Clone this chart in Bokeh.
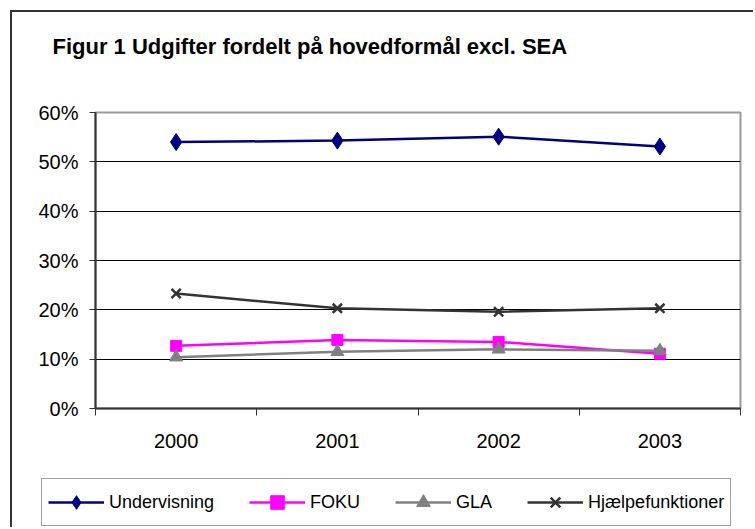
import numpy as np
from bokeh.plotting import figure
from bokeh.models import (Range1d, FixedTicker, NumeralTickFormatter, Legend, LegendItem,
                          Label, ColumnDataSource)
from bokeh.embed import file_html
from bokeh.resources import INLINE

years = ["2000", "2001", "2002", "2003"]
undervisning = [0.540, 0.543, 0.551, 0.531]
foku = [0.127, 0.139, 0.135, 0.111]
gla = [0.104, 0.115, 0.120, 0.117]
hjaelp = [0.233, 0.203, 0.196, 0.203]
y_ticks = [0.0, 0.1, 0.2, 0.3, 0.4, 0.5, 0.6]
title_text = "Figur 1  Udgifter fordelt på hovedformål excl. SEA"

xpos = list(np.arange(len(years)) + 0.5)
FONT = "Liberation Sans"
BORDER = "2px solid #333333"
W = 743


def strip(h, y0=0):
    f = figure(width=W, height=h, output_backend="svg", toolbar_location=None,
               x_range=Range1d(0, W), y_range=Range1d(y0, y0 + h),
               x_axis_location=None, y_axis_location=None,
               min_border_left=0, min_border_right=0, min_border_top=0, min_border_bottom=0)
    f.grid.grid_line_color = None
    f.outline_line_color = None
    f.background_fill_color = "white"
    f.border_fill_color = "white"
    return f


# title strip
p0 = strip(60)
p0.styles = {"border-left": BORDER, "border-top": BORDER,
             "margin-left": "10px", "margin-top": "10px"}
p0.add_layout(Label(x=40, y=26, text=title_text, text_font=FONT, text_font_size="22px",
                    text_font_style="bold", text_color="black", text_baseline="alphabetic"))

# main chart
p = figure(width=W, height=398, output_backend="svg", toolbar_location=None,
           x_range=Range1d(0, len(years)), y_range=Range1d(0, 0.6),
           min_border_left=83, min_border_right=15, min_border_top=42, min_border_bottom=60)
p.styles = {"border-left": BORDER, "margin-left": "10px"}
p.background_fill_color = "white"
p.border_fill_color = "white"
p.outline_line_color = "#9a9a9a"
p.outline_line_width = 2

# x axis: labels at category centres, ticks at category boundaries
p.xaxis.ticker = FixedTicker(ticks=xpos, minor_ticks=list(range(len(years) + 1)))
p.xaxis.major_label_overrides = {x: y for x, y in zip(xpos, years)}
p.xaxis.major_tick_out = 0
p.xaxis.major_tick_in = 0
p.xaxis.minor_tick_out = 7
p.xaxis.minor_tick_in = 0
p.xaxis.minor_tick_line_color = "#333333"
p.xaxis.major_label_standoff = 18
p.xaxis.axis_line_color = "#333333"
p.xaxis.axis_line_width = 2
p.xaxis.major_label_text_font = FONT
p.xaxis.major_label_text_font_size = "20px"
p.xaxis.major_label_text_color = "black"

p.yaxis.ticker = FixedTicker(ticks=y_ticks)
p.yaxis.formatter = NumeralTickFormatter(format="0%")
p.yaxis.major_tick_out = 6
p.yaxis.major_tick_in = 0
p.yaxis.minor_tick_line_color = None
p.yaxis.major_tick_line_color = "#333333"
p.yaxis.axis_line_color = "#333333"
p.yaxis.axis_line_width = 2
p.yaxis.major_label_standoff = 11
p.yaxis.major_label_text_font = FONT
p.yaxis.major_label_text_font_size = "20px"
p.yaxis.major_label_text_color = "black"

p.xgrid.grid_line_color = None
p.ygrid.ticker = FixedTicker(ticks=y_ticks)
p.ygrid.grid_line_color = "black"
p.ygrid.grid_line_width = 1

series = [
    ("Undervisning", undervisning, "#000080", "diamond", 17),
    ("FOKU", foku, "#FF00FF", "square", 11),
    ("GLA", gla, "#808080", "triangle", 13),
    ("Hjælpefunktioner", hjaelp, "#333333", "x", 13),
]

# legend strip (separate figure so the legend is not clipped);
# the same data is drawn there but lies outside that strip's view
p2 = strip(59, y0=10)
p2.styles = {"border-left": BORDER, "margin-left": "10px"}

items = []
for name, vals, col, mk, sz in series:
    src = ColumnDataSource(dict(x=xpos, y=vals))
    kw = dict(line_color=col, fill_color=col)
    if mk == "x":
        kw["line_width"] = 2.5
    p.line("x", "y", source=src, line_color=col, line_width=2.5)
    p.scatter("x", "y", source=src, marker=mk, size=sz, **kw)
    l1 = p2.line("x", "y", source=src, line_color=col, line_width=2.5)
    l2 = p2.scatter("x", "y", source=src, marker=mk, size=sz, **kw)
    items.append(LegendItem(label=name, renderers=[l1, l2]))

legend = Legend(items=items, orientation="horizontal", location=(29, 1),
                glyph_width=56, glyph_height=34, label_standoff=5, spacing=35,
                padding=6, margin=0,
                label_text_font=FONT, label_text_font_size="18px",
                label_text_color="black",
                border_line_color="#444444", border_line_width=1.5,
                background_fill_color="white", background_fill_alpha=1)
p2.add_layout(legend, "center")

open("out.html", "w").write(file_html([p0, p, p2], INLINE))
